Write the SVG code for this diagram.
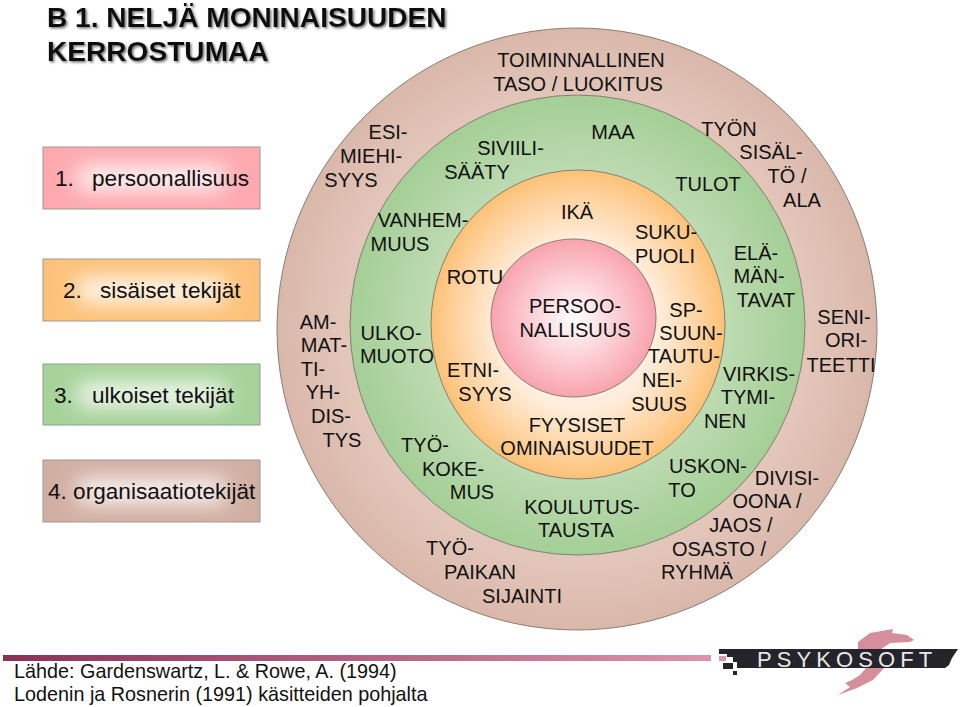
<svg xmlns="http://www.w3.org/2000/svg" width="960" height="707" viewBox="0 0 960 707">
<style>
text{font-family:"Liberation Sans",Arial,sans-serif;font-size:20px;fill:#111}
.ring{stroke:#857f74;stroke-width:1}
.box{stroke:#999;stroke-width:1}
.glow{fill:#fff;filter:url(#bl)}
.bt{font-size:22.6px}
.title{font-size:28.1px;font-weight:bold;fill:#111;filter:url(#sh)}
.src{font-size:19.8px}
</style>
<defs>
<filter id="sh" x="-5%" y="-20%" width="110%" height="140%"><feDropShadow dx="1.5" dy="1.5" stdDeviation="1" flood-color="#777"/></filter>
<filter id="bl" x="-30%" y="-100%" width="160%" height="300%"><feGaussianBlur stdDeviation="11"/></filter>
<radialGradient id="gP"><stop offset="0" stop-color="#fff"/><stop offset="1" stop-color="#f9a3ae"/></radialGradient>
<radialGradient id="gO"><stop offset=".54" stop-color="#ffeedd"/><stop offset=".85" stop-color="#fed09a"/><stop offset="1" stop-color="#fdc175"/></radialGradient>
<radialGradient id="gG"><stop offset=".65" stop-color="#bedbb2"/><stop offset="1" stop-color="#a4cf96"/></radialGradient>
<radialGradient id="gB"><stop offset=".77" stop-color="#e3c6ba"/><stop offset="1" stop-color="#d9b8aa"/></radialGradient>
<linearGradient id="bar"><stop offset="0" stop-color="#8a3058"/><stop offset="1" stop-color="#dc93ac"/></linearGradient>
</defs>
<rect width="960" height="707" fill="#fff"/>
<g id="ring-org"><ellipse class="ring" cx="577" cy="329" rx="300" ry="301" fill="url(#gB)"/></g>
<g id="ring-ext"><ellipse class="ring" cx="577.5" cy="325" rx="227.5" ry="230" fill="url(#gG)"/></g>
<g id="ring-int"><ellipse class="ring" cx="578" cy="324.5" rx="147" ry="154.5" fill="url(#gO)"/></g>
<g id="ring-pers"><ellipse class="ring" cx="573.5" cy="318" rx="82.5" ry="79" fill="url(#gP)"/></g>
<g id="title"><text class="title" x="47" y="27">B 1. NELJÄ MONINAISUUDEN</text><text class="title" x="47" y="61">KERROSTUMAA</text></g>
<g id="level-title" text-anchor="middle"><text x="581" y="67">TOIMINNALLINEN</text><text x="578" y="91">TASO / LUOKITUS</text></g>
<g id="box1"><rect class="box" x="43" y="147" width="217" height="62" fill="#fda9af"/><rect class="glow" x="78" y="167" width="147" height="22"/><text class="bt" x="55" y="186">1.</text><text class="bt" x="92" y="186">persoonallisuus</text></g>
<g id="box2"><rect class="box" x="43" y="259" width="217" height="62" fill="#fdc27a"/><rect class="glow" x="78" y="279" width="147" height="22"/><text class="bt" x="63" y="298">2.</text><text class="bt" x="100" y="298">sisäiset tekijät</text></g>
<g id="box3"><rect class="box" x="43" y="364" width="217" height="61" fill="#a6d39a"/><rect class="glow" x="78" y="384" width="147" height="21"/><text class="bt" x="54" y="403">3.</text><text class="bt" x="92" y="403">ulkoiset tekijät</text></g>
<g id="box4"><rect class="box" x="43" y="460" width="217" height="62" fill="#d2afa3"/><rect class="glow" x="78" y="480" width="147" height="22"/><text class="bt" x="48" y="499">4. organisaatiotekijät</text></g>
<g id="labels" text-anchor="middle">
<text x="388" y="139">ESI-</text><text x="371" y="163">MIEHI-</text><text x="351" y="187">SYYS</text>
<text x="510.500" y="155">SIVIILI-</text><text x="477" y="179">SÄÄTY</text>
<text x="613" y="139">MAA</text>
<text x="729" y="136">TYÖN</text><text x="771" y="159">SISÄL-</text><text x="787" y="183">TÖ /</text><text x="802" y="207">ALA</text>
<text x="708" y="191">TULOT</text>
<text x="577" y="219">IKÄ</text>
<text x="423" y="227">VANHEM-</text><text x="400" y="251">MUUS</text>
<text x="666" y="239">SUKU-</text><text x="665" y="263">PUOLI</text>
<text x="756" y="260">ELÄ-</text><text x="759" y="283">MÄN-</text><text x="766" y="307">TAVAT</text>
<text x="475" y="284">ROTU</text>
<text x="575" y="313">PERSOO-</text><text x="575" y="337">NALLISUUS</text>
<text x="686" y="317">SP-</text><text x="691" y="340">SUUN-</text><text x="684" y="363">TAUTU-</text><text x="662" y="387">NEI-</text><text x="659" y="411">SUUS</text>
<text x="473" y="377">ETNI-</text><text x="485" y="401">SYYS</text>
<text x="318" y="329">AM-</text><text x="324" y="352">MAT-</text><text x="313" y="376">TI-</text><text x="323" y="399">YH-</text><text x="331" y="423">DIS-</text><text x="342" y="447">TYS</text>
<text x="391" y="340">ULKO-</text><text x="397" y="363">MUOTO</text>
<text x="844" y="324">SENI-</text><text x="846" y="347">ORI-</text><text x="841" y="372">TEETTI</text>
<text x="759" y="381">VIRKIS-</text><text x="748" y="404">TYMI-</text><text x="725" y="428">NEN</text>
<text x="577" y="432">FYYSISET</text><text x="577" y="455">OMINAISUUDET</text>
<text x="425" y="452">TYÖ-</text><text x="453" y="476">KOKE-</text><text x="472" y="499">MUS</text>
<text x="708" y="473">USKON-</text><text x="682" y="497">TO</text>
<text x="787" y="485">DIVISI-</text><text x="767" y="508">OONA /</text><text x="741" y="532">JAOS /</text><text x="719" y="556">OSASTO /</text><text x="697" y="579">RYHMÄ</text>
<text x="582" y="514">KOULUTUS-</text><text x="576" y="537">TAUSTA</text>
<text x="450" y="555">TYÖ-</text><text x="480" y="579">PAIKAN</text><text x="522" y="603">SIJAINTI</text>
</g>
<g id="source"><rect x="3" y="655" width="708" height="6" fill="url(#bar)"/><text class="src" x="14" y="678">Lähde: Gardenswartz, L. &amp; Rowe, A. (1994)</text><text class="src" x="14" y="701">Lodenin ja Rosnerin (1991) käsitteiden pohjalta</text></g>
<g id="logo">
<path d="M858 649L858 642L870 633L893 629L892 633L907 635L914 640L910 642L890 643L880 650ZM885 667L873 680L857 688L838 695L850 687L845 683L852 680L860 675L867 667Z" fill="#d68e9c"/>
<path d="M719 649H958L952 658L949 665L945 668H737V662H733V657H727V654H719Z" fill="#24242a"/>
<rect x="719" y="656" width="7" height="5" fill="#d99aa8"/><rect x="723" y="663" width="10" height="6" fill="#24242a"/><rect x="733" y="671" width="4" height="4" fill="#24242a"/>
<text x="757" y="667" style="font-size:22px;fill:#e8e8e8;letter-spacing:5.1px">PSYKOSOFT</text>
</g>
</svg>
